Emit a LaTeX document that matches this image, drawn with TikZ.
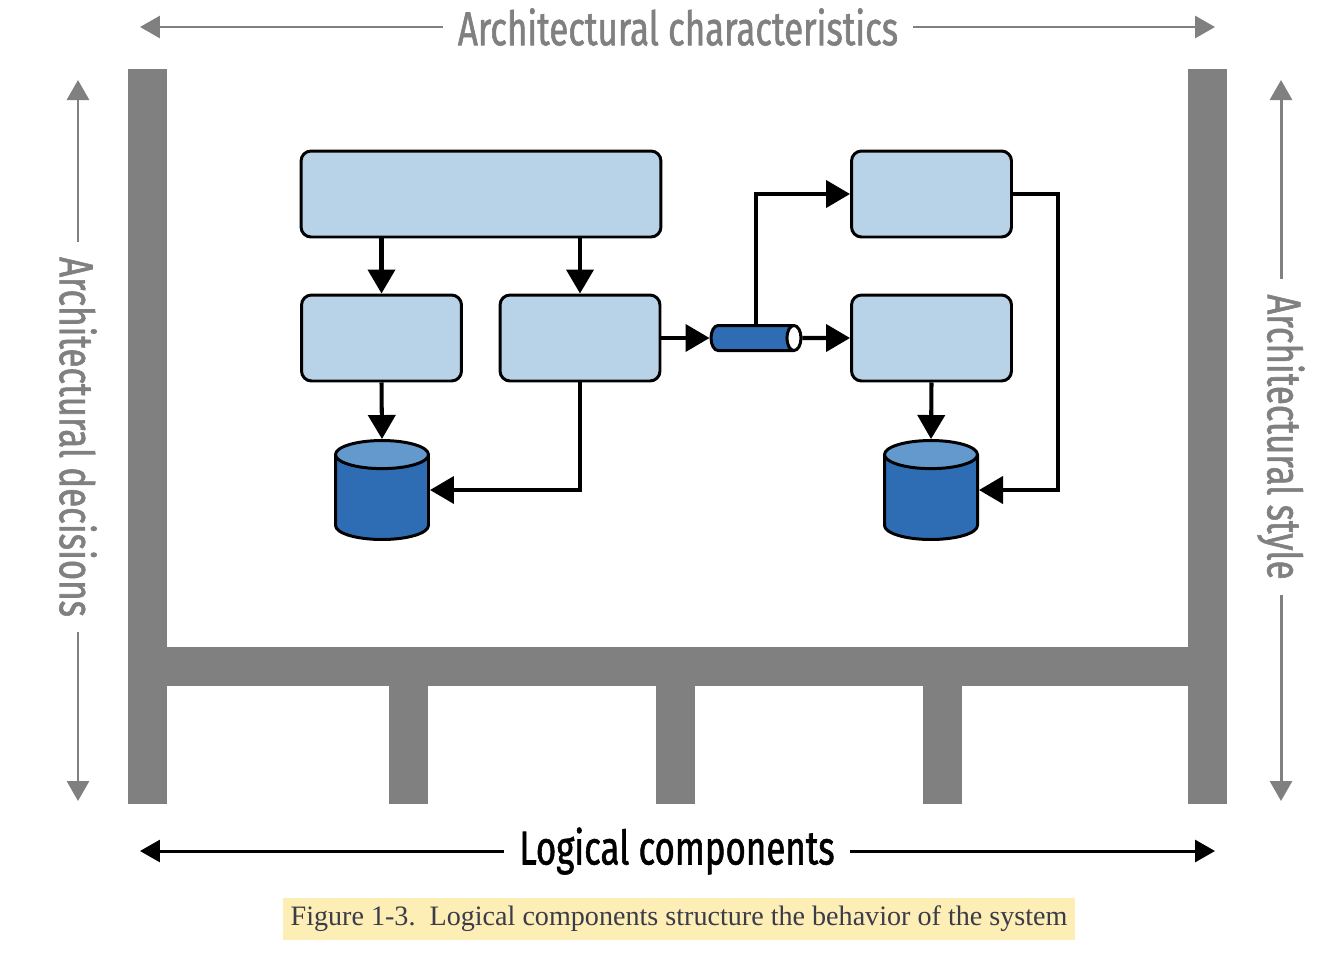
\documentclass[tikz,border=0pt]{standalone}
\usepackage{fontspec}
\setmainfont{Liberation Serif}
\newfontfamily\condfont[FakeStretch=0.735,FakeBold=1.2]{Fira Sans}
\usetikzlibrary{positioning}
\usetikzlibrary{arrows.meta}
\usetikzlibrary{shapes.geometric}
\definecolor{structgray}{HTML}{808080}
\definecolor{boxblue}{HTML}{B8D3E8}
\definecolor{dbblue}{HTML}{2E6DB4}
\definecolor{dbtop}{HTML}{6499CD}
\definecolor{capyellow}{HTML}{FCEEB5}
\definecolor{captext}{HTML}{3B3B4A}
\tikzset{%
  comp/.style = {rectangle,rounded corners=0.2cm,draw,line width=1.7pt,
        fill=boxblue,minimum width=3.2cm,minimum height=1.72cm},
  db/.style = {cylinder,shape border rotate=90,draw,line width=1.7pt,
        aspect=2.4,minimum width=1.86cm,minimum height=1.98cm,
        anchor=shape center,
        cylinder uses custom fill,cylinder body fill=dbblue,
        cylinder end fill=dbtop},
  pipe/.style = {cylinder,draw,line width=1.7pt,aspect=1.2,
        minimum width=0.5cm,minimum height=1.8cm,anchor=shape center,
        cylinder uses custom fill,cylinder body fill=dbblue,
        cylinder end fill=white},
  flow/.style = {-{Triangle[length=0.48cm,width=0.54cm]},line width=2.3pt},
  dim/.style = {{Triangle[length=0.4cm,width=0.44cm]}-,line width=1.7pt,
        draw=structgray},
  axislabel/.style = {font=\condfont\fontsize{27}{27}\selectfont,
        text=structgray,inner xsep=0.3cm,inner ysep=0pt}
}
\begin{document}
\begin{tikzpicture}[x=0.02cm,y=-0.02cm]
    \useasboundingbox (0,0) rectangle (1344,964);
    % frame
    \fill[structgray] (128,69) rectangle (167,804);
    \fill[structgray] (1188,69) rectangle (1227,804);
    \fill[structgray] (128,647) rectangle (1227,686);
    \foreach \x in {389,656,923}
        \fill[structgray] (\x,686) rectangle ++(39,118);
    % components
    \node[comp,minimum width=7.2cm] (top) at (481,194) {};
    \node[comp] (ml) at (381.5,338) {};
    \node[comp] (mc) at (580,338) {};
    \node[comp] (rt) at (931.5,194) {};
    \node[comp] (rm) at (931.5,338) {};
    \node[db] (dbl) at (382,490) {};
    \node[db] (dbr) at (931,490) {};
    \node[pipe] (queue) at (756,338) {};
    \draw[flow] (ml.north |- top.south) -- (ml.north);
    \draw[flow] (mc.north |- top.south) -- (mc.north);
    \draw[flow] (ml.south) -- (dbl.north);
    \draw[flow] (mc.south) |- (dbl.shape center -| dbl.east);
    \draw[flow] (mc.east) -- (queue.west);
    \draw[flow] (queue.north -| queue.shape center) |- (rt.west);
    \draw[flow] (queue.east) -- (rm.west);
    \draw[flow] (rm.south) -- (dbr.north);
    \draw[flow] (rt.east) -- ++(45,0) |- (dbr.shape center -| dbr.east);
    % labels
    \node[axislabel] (chars) at (678,27) {Architectural characteristics};
    \coordinate (charsl) at (140,27);
    \coordinate (charsr) at (1215,27);
    \draw[dim] (charsl) -- (chars.west);
    \draw[dim] (charsr) -- (chars.east);
    \node[axislabel,rotate=-90] (decisions) at (78,437) {Architectural decisions};
    \coordinate (decisionst) at (78,80);
    \coordinate (decisionsb) at (78,801);
    \draw[dim] (decisionst) -- (decisions.west);
    \draw[dim] (decisionsb) -- (decisions.east);
    \node[axislabel,rotate=-90] (style) at (1281,437) {Architectural style};
    \coordinate (stylet) at (1281,80);
    \coordinate (styleb) at (1281,801);
    \draw[dim] (stylet) -- (style.west);
    \draw[dim] (styleb) -- (style.east);
    \node[axislabel,text=black] (logic) at (677,851) {Logical components};
    \coordinate (logicl) at (140,851);
    \coordinate (logicr) at (1215,851);
    \draw[dim,draw=black] (logicl) -- (logic.west);
    \draw[dim,draw=black] (logicr) -- (logic.east);
    % caption
    \node[fill=capyellow,text=captext,minimum width=15.84cm,minimum height=0.84cm,
        inner sep=0pt,font=\fontsize{16}{17}\selectfont] (caption) at (679,919)
        {Figure 1-3.\ \ Logical components structure the behavior of the system};
\end{tikzpicture}
\end{document}
